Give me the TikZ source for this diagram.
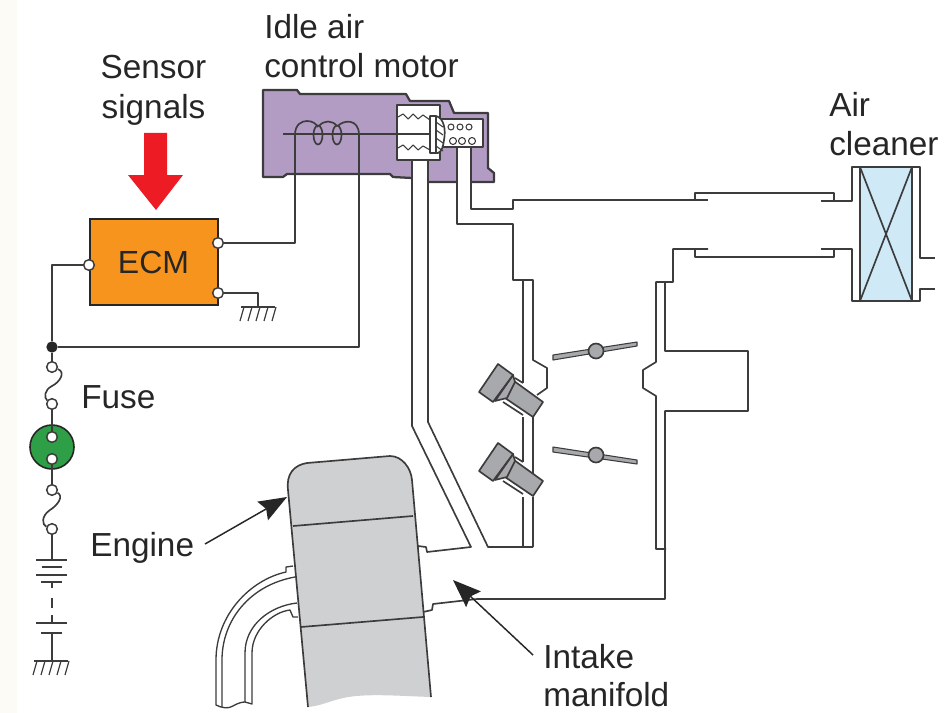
\documentclass[tikz,border=0pt]{standalone}
\usepackage{fontspec}
\setmainfont{Liberation Sans}
\usepackage{xcolor}
\usetikzlibrary{arrows.meta,positioning}
\definecolor{inkgrey}{HTML}{3C3C3C}
\definecolor{motorpurple}{HTML}{B29CC4}
\definecolor{ecmorange}{HTML}{F7941D}
\definecolor{relaygreen}{HTML}{2E9E47}
\definecolor{signalred}{HTML}{ED1C24}
\definecolor{cleanerblue}{HTML}{CFE9F7}
\definecolor{enginegrey}{HTML}{CFD0D2}
\definecolor{partgrey}{HTML}{A7A9AC}
\definecolor{margincream}{HTML}{FDFBF5}
\tikzset{
  pipeline/.style={draw=inkgrey, line width=1.25pt, line join=round},
  terminal/.style={circle, draw=inkgrey, fill=white, line width=1.1pt, minimum size=8pt, inner sep=0pt},
  label/.style={anchor=north west, align=left, inner sep=0pt, text=black!85, font=\fontsize{25}{29.6}\selectfont},
  pointer/.style={draw=black!85, line width=1.1pt, -{Stealth[length=21pt,width=16pt,inset=3pt]}}
}
\begin{document}
\begin{tikzpicture}[x=0.75pt,y=-0.75pt]
\useasboundingbox (0,0) rectangle (945,713);
\fill [margincream] (0,0) rectangle (17,713);

% idle air control motor
\draw [pipeline, line width=1.7pt, fill=motorpurple] (263,90) -- (297,90) -- (300,94) -- (406,94) -- (410,101) -- (449,101) -- (454,113) -- (488,113) -- (488,168) -- (494,173) -- (494,182) -- (428,182) -- (412,178) -- (393,177) -- (390,174) -- (287,174) -- (283,177) -- (263,177) -- cycle;
\fill [white] (412,158) rectangle (428,184);
\fill [white] (457,146) rectangle (471,184);
\draw [pipeline, fill=white] (430,105) -- (397,105) -- (397,160) -- (440,160) -- (440,105) -- cycle;
\draw [pipeline, fill=white] (440,119) -- (483,119) -- (483,147) -- (443,147);
\foreach \cx in {451,460,469} {\draw [pipeline, line width=.8pt] (\cx,127) circle (3);}
\foreach \cx in {453,462,472} {\draw [pipeline, line width=.8pt] (\cx,141) circle (3.5);}
\draw [pipeline, line width=.8pt] (398,117) -- (403,114) -- (408,119) -- (413,114) -- (418,119) -- (423,115) -- (430,120);
\draw [pipeline, line width=.8pt] (398,148) -- (403,145) -- (408,150) -- (413,145) -- (418,150) -- (423,146) -- (430,150);
\draw [pipeline] (283,134) -- (430,134);
\draw [pipeline, fill=white] (430,116) -- (436,116) .. controls (444,118) and (446,130) .. (444,140) .. controls (443,147) and (442,151) .. (438,153) -- (430,153) -- cycle;
\draw [pipeline] (436,116) -- (436,153);
\foreach \hy in {122,130,138,146} {\draw [pipeline, line width=.8pt] (436,\hy) -- (443,\hy+5);}

% coil
\coordinate (coilin) at (295,135);
\coordinate (coilout) at (359,135);
\draw [pipeline] (coilin) .. controls (295,124) and (302,121) .. (307,121) .. controls (313,121) and (316,124) .. (318,127);
\draw [pipeline] (318,135) ellipse (4.5 and 9.5);
\draw [pipeline] (319,126) .. controls (324,120) and (332,120) .. (337,126);
\draw [pipeline] (337,135) ellipse (4.5 and 9.5);
\draw [pipeline] (338,126) .. controls (343,120) and (359,118) .. (coilout);

% air passages
\draw [pipeline] (412,160) -- (412,426) -- (471,547) -- (427,552) -- (426,547) -- (418,546);
\draw [pipeline] (428,160) -- (428,422) -- (488,547) -- (533,547);
\draw [pipeline] (471,147) -- (471,209) -- (513,209) -- (513,200) -- (708,200);
\draw [pipeline] (695,200) -- (695,193) -- (834,193) -- (834,201);
\draw [pipeline] (821,201) -- (852,201) -- (852,167) -- (920,167) -- (920,258) -- (935,258);
\draw [pipeline] (935,289) -- (920,289) -- (920,301) -- (852,301) -- (852,249) -- (821,249);
\draw [pipeline] (834,249) -- (834,257) -- (695,257) -- (695,249);
\draw [pipeline] (708,249) -- (673,249) -- (673,282) -- (656,282) -- (656,362) -- (643,370) -- (643,388) -- (656,396) -- (656,549) -- (666,549);
\draw [pipeline] (665,282) -- (665,351) -- (748,351) -- (748,411) -- (665,411) -- (665,599) -- (477,599) -- (433,604) -- (432,610) -- (423,612);
\draw [pipeline] (457,147) -- (457,224) -- (513,224) -- (513,280) -- (533,280) -- (533,360) -- (547,368) -- (547,388) -- (537,395);
\draw [pipeline] (523,280) -- (523,383);
\draw [pipeline] (523,417) -- (523,462);
\draw [pipeline] (533,417) -- (533,495);
\draw [pipeline] (523,497) -- (523,547);
\draw [pipeline] (533,497) -- (533,547);

% air cleaner
\draw [pipeline, fill=cleanerblue] (860,167) rectangle (912,301);
\draw [pipeline] (860,167) -- (912,301);
\draw [pipeline] (912,167) -- (860,301);

% injectors
\foreach \dy in {0,79} {
\draw [pipeline] (503,402+\dy) -- (523,415+\dy);
\draw [pipeline] (515,378+\dy) -- (523,383+\dy);
\draw [pipeline, fill=partgrey] (514,381+\dy) -- (543,402+\dy) -- (533,417+\dy) -- (505,398+\dy) -- cycle;
\draw [pipeline, fill=partgrey] (513,375+\dy) -- (515,382+\dy) -- (507,398+\dy) -- (495,401+\dy) -- cycle;
\draw [pipeline, fill=partgrey] (498,364+\dy) -- (513,375+\dy) -- (493,402+\dy) -- (479,392+\dy) -- cycle;
}

% throttle plates
\draw [pipeline, line width=.8pt, fill=partgrey] (553,355) -- (637,342) -- (637,346) -- (553,360) -- cycle;
\draw [pipeline, fill=partgrey] (596,351) circle (7.5);
\draw [pipeline, line width=.8pt, fill=partgrey] (553,447) -- (637,460) -- (637,464) -- (553,452) -- cycle;
\draw [pipeline, fill=partgrey] (596,455) circle (7.5);

% engine
\fill [enginegrey] (308,707) -- (288,490) .. controls (286,474) and (294,465) .. (307,463) -- (390,456) .. controls (402,456) and (411,468) .. (412,480) -- (431,697) .. controls (400,696) and (365,693) .. (343,698) .. controls (330,701) and (320,706) .. (308,707) -- cycle;
\draw [pipeline] (308,707) -- (288,490) .. controls (286,474) and (294,465) .. (307,463) -- (390,456) .. controls (402,456) and (411,468) .. (412,480) -- (431,697);
\draw [pipeline] (293,526) -- (413,516);
\draw [pipeline] (301,627) -- (423,617);
\draw [pipeline, line width=1pt] (293,566) -- (286,567) -- (286,572) .. controls (250,580) and (216,615) .. (216,660) -- (216,705) .. controls (222,708) and (228,709) .. (233,706) .. controls (238,703) and (242,702) .. (245,702) -- (252,704) -- (252,653) .. controls (252,630) and (273,612) .. (290,610) -- (293,617) -- (298,617);
\draw [pipeline, line width=1pt] (295,577) .. controls (250,585) and (222,620) .. (222,660) -- (222,707);
\draw [pipeline, line width=1pt] (297,603) .. controls (270,606) and (245,625) .. (245,653) -- (245,702);

% wiring
\node (ecm) [draw=black!85, line width=1.5pt, fill=ecmorange, minimum width=96pt, minimum height=64pt, inner sep=0pt, font=\fontsize{24}{28}\selectfont, text=black!85] at (153.5,262) {ECM};
\node (ecmout) [terminal] at (218,243) {};
\node (ecmgnd) [terminal] at (218,293) {};
\node (ecmpwr) [terminal] at (89,265) {};
\node (junction) [circle, fill=black!85, minimum size=8.5pt, inner sep=0pt] at (52,347) {};
\coordinate (ecmearth) at (258,307);
\draw [pipeline] (ecmout) -| (coilin);
\draw [pipeline] (ecmgnd) -| (ecmearth);
\draw [pipeline] (ecmpwr) -| (junction);
\draw [pipeline] (junction) -| (coilout);

% fuses, switch, battery
\node (relay) [circle, draw=black!85, fill=relaygreen, line width=1.2pt, minimum size=33pt, inner sep=0pt] at (52,447) {};
\node (fuseatop) [terminal] at (52,367) {};
\node (fuseabot) [terminal] at (52,404) {};
\node (relaytop) [terminal] at (52,437) {};
\node (relaybot) [terminal] at (52,459) {};
\node (fusebtop) [terminal] at (52,490) {};
\node (fusebbot) [terminal] at (52,529) {};
\coordinate (batterytop) at (52,560);
\coordinate (batteryend) at (52,661);
\draw [pipeline] (junction) -- (fuseatop);
\draw [pipeline] (fuseatop) .. controls (66,372) and (60,382) .. (52,386) .. controls (44,390) and (44,398) .. (fuseabot);
\draw [pipeline] (fuseabot) -- (relaytop);
\draw [pipeline] (relaybot) -- (fusebtop);
\draw [pipeline] (fusebtop) .. controls (64,496) and (58,505) .. (50,510) .. controls (41,516) and (42,525) .. (fusebbot);
\draw [pipeline] (fusebbot) -- (batterytop);
\draw [pipeline] (36,560) -- (67,560);
\draw [pipeline] (42,567) -- (62,567);
\draw [pipeline] (36,575) -- (67,575);
\draw [pipeline] (41,582) -- (62,582);
\draw [pipeline] (52,582) -- (52,588);
\draw [pipeline] (52,598) -- (52,608);
\draw [pipeline] (52,615) -- (52,623);
\draw [pipeline] (36,623) -- (67,623);
\draw [pipeline] (41,633) -- (62,633);
\draw [pipeline] (52,633) -- (batteryend);

% earth symbols
\foreach \gx/\gy in {258/307,51/661} {
\draw [pipeline] (\gx-17,\gy) -- (\gx+17,\gy);
\foreach \hx in {-12,-4,4,12,20} {\draw [pipeline, line width=.9pt] (\gx+\hx-2,\gy) -- (\gx+\hx-6,\gy+14);}
}

% sensor signal arrow
\fill [signalred] (144,133) -- (167,133) -- (167,175) -- (183,175) -- (156,210) -- (128,175) -- (144,175) -- cycle;

% labels
\node (idlelabel) [label] at (264,14) {Idle air\\control motor};
\node (sensorlabel) [label, align=center, anchor=north] at (153.5,55) {Sensor\\signals};
\node (cleanerlabel) [label] at (829,92) {Air\\cleaner};
\node (fuselabel) [label] at (81,385) {Fuse};
\node (enginelabel) [label] at (90,532) {Engine};
\node (intakelabel) [label, font=\fontsize{25}{28.8}\selectfont] at (543,644) {Intake\\manifold};
\coordinate (enginetip) at (287,497);
\coordinate (intaketip) at (453,580);
\coordinate (intaketail) at (533,655);
\draw [pointer] (205,544) -- (enginetip);
\draw [pointer] (intaketail) -- (intaketip);
\end{tikzpicture}
\end{document}
